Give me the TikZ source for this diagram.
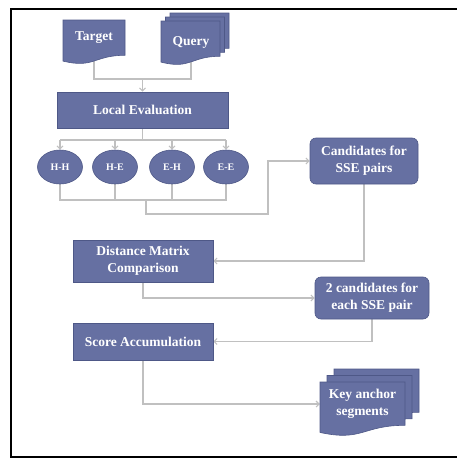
\documentclass[tikz,border=0pt]{standalone}
\usepackage{fontspec}
\setmainfont{Liberation Serif}
\usetikzlibrary{arrows.meta,shapes.geometric}
\pgfdeclarelayer{connlayer}
\pgfdeclarelayer{shapelayer}
\pgfsetlayers{connlayer,shapelayer,main}
\definecolor{boxfill}{RGB}{102,112,162}
\definecolor{boxline}{RGB}{78,88,135}
\definecolor{conncol}{RGB}{192,192,192}
% document shape: x y w h (image coordinates, y downwards)
\newcommand{\docshape}[4]{%
  \filldraw[docsty] (#1,#2) -- ({#1+#3},#2) -- ({#1+#3},{#2+0.802*#4})
    .. controls ({#1+0.5*#3},{#2+0.802*#4}) and ({#1+0.5*#3},{#2+1.107*#4}) .. (#1,{#2+0.934*#4}) -- cycle;}
\begin{document}
\begin{tikzpicture}[x=1pt,y=-1pt,
  txt/.style={text=white,font=\bfseries\fontsize{13.5}{17}\selectfont,align=center,inner sep=0pt},
  boxsty/.style={txt,draw=boxline,fill=boxfill,line width=0.6pt},
  rbox/.style={boxsty,rounded corners=6pt},
  oval/.style={boxsty,ellipse,minimum width=45pt,minimum height=34pt,font=\bfseries\fontsize{10}{12}\selectfont},
  docsty/.style={draw=boxline,fill=boxfill,line width=0.6pt},
  connline/.style={draw=conncol,line width=1.1pt},
  arr/.style={connline,-{Straight Barb[length=3pt,width=6pt]}},
  outerframe/.style={line width=2.5pt,black}]
\useasboundingbox (0,0) rectangle (456,458);

% outer frame
\draw[outerframe] (457,9) -- (11,9) -- (11,457) -- (457,457);

% text nodes of the document shapes
\node[txt,minimum width=62pt,minimum height=35pt] (T) at (94,37.5) {Target};
\node[txt,minimum width=60pt,minimum height=30pt] (Q) at (191,42) {Query};
\node[txt,minimum width=85pt,minimum height=44pt] (K) at (362.5,404) {Key anchor\\segments};

% document shapes
\begin{pgfonlayer}{shapelayer}
  \docshape{63}{20}{62}{44}
  \docshape{170}{13}{59}{44}
  \docshape{165.5}{17}{59}{44}
  \docshape{161}{21}{59}{44}
  \docshape{334}{369}{85}{54}
  \docshape{327}{375.5}{85}{54}
  \docshape{320}{382}{85}{54}
\end{pgfonlayer}

% boxes
\node[boxsty,minimum width=171pt,minimum height=36pt] (LE) at (142.5,110) {Local Evaluation};
\node[oval] (HH) at (60,167) {H-H};
\node[oval] (HE) at (115,167) {H-E};
\node[oval] (EH) at (172,167) {E-H};
\node[oval] (EE) at (226,167) {E-E};
\node[rbox,minimum width=108pt,minimum height=46pt] (C) at (364,161) {Candidates for\\SSE pairs};
\node[boxsty,minimum width=140pt,minimum height=42pt] (D) at (143,261) {Distance Matrix\\Comparison};
\node[rbox,minimum width=114pt,minimum height=42pt] (TW) at (372,298) {2 candidates for\\each SSE pair};
\node[boxsty,minimum width=140pt,minimum height=37pt] (S) at (143,341.5) {Score Accumulation};

% junction coordinates
\coordinate (j1) at (142.5,79);
\coordinate (j2) at (142.5,140);
\coordinate (j3) at (146,200);
\coordinate (j4) at (268,214);

% connectors
\begin{pgfonlayer}{connlayer}
  \draw[connline] (T.south) |- (j1) -| (Q.south);
  \draw[arr] (j1) -- (LE.north);
  \draw[connline] (LE.south) -- (j2);
  \draw[connline] (HH.north |- j2) -- (EE.north |- j2);
  \draw[arr] (HH.north |- j2) -- (HH.north);
  \draw[arr] (HE.north |- j2) -- (HE.north);
  \draw[arr] (EH.north |- j2) -- (EH.north);
  \draw[arr] (EE.north |- j2) -- (EE.north);
  \draw[connline] (HH.south) |- (EE.south |- j3) -- (EE.south);
  \draw[connline] (HE.south) -- (HE.south |- j3);
  \draw[connline] (EH.south) -- (EH.south |- j3);
  \draw[arr] (j3) |- (j4) |- (C.west);
  \draw[arr] (C.south) |- (D.east);
  \draw[arr] (D.south) |- (TW.west);
  \draw[arr] (TW.south) |- (S.east);
  \draw[arr] (S.south) |- (K.west);
\end{pgfonlayer}
\end{tikzpicture}
\end{document}
